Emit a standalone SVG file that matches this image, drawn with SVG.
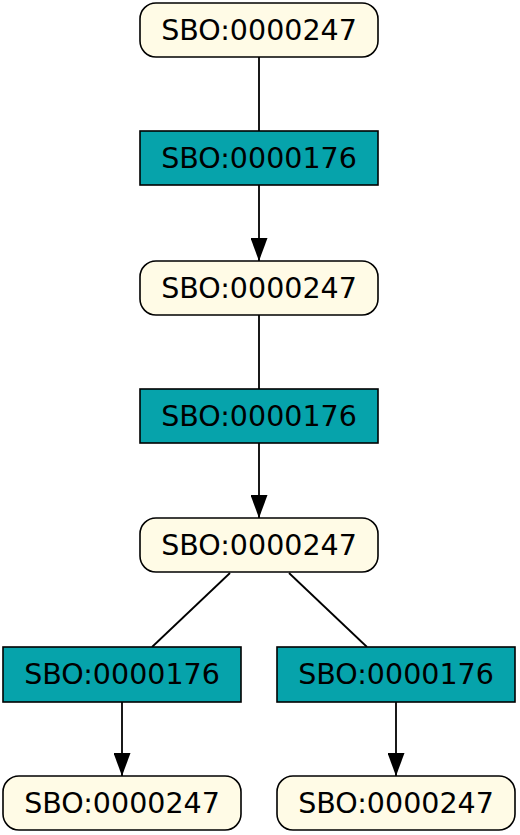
<svg xmlns="http://www.w3.org/2000/svg" width="520" height="835" viewBox="0 0 520 835">
<style>
.sp{fill:#fffbe6;stroke:#000;stroke-width:1.6}
.pr{fill:#06a3ab;stroke:#000;stroke-width:1.6}
.t{font-family:"DejaVu Sans",sans-serif;font-size:28.5px;text-anchor:middle;fill:#000}
.e{stroke:#000;stroke-width:1.8;fill:none}
</style>
<defs>
<marker id="ar" markerWidth="23" markerHeight="17" refX="23" refY="8.5" viewBox="0 0 23 17" orient="auto" markerUnits="userSpaceOnUse">
<path d="M0,0 L23,8.5 L0,17 Z" fill="#000"/>
</marker>
</defs>
<g id="edges">
<line class="e" x1="259" y1="57" x2="259" y2="131"/>
<line class="e" x1="259" y1="185" x2="259" y2="261" marker-end="url(#ar)"/>
<line class="e" x1="259" y1="315" x2="259" y2="389"/>
<line class="e" x1="259" y1="443" x2="259" y2="518" marker-end="url(#ar)"/>
<line class="e" x1="230" y1="573" x2="152" y2="647"/>
<line class="e" x1="289" y1="573" x2="367" y2="647"/>
<line class="e" x1="122" y1="702" x2="122" y2="776" marker-end="url(#ar)"/>
<line class="e" x1="396" y1="702" x2="396" y2="776" marker-end="url(#ar)"/>
</g>
<g id="n1"><rect class="sp" x="140" y="3" width="238" height="54" rx="16"/><text class="t" x="259" y="40">SBO:0000247</text></g>
<g id="p1"><rect class="pr" x="140" y="131" width="238" height="54"/><text class="t" x="259" y="168">SBO:0000176</text></g>
<g id="n2"><rect class="sp" x="140" y="261" width="238" height="54" rx="16"/><text class="t" x="259" y="298">SBO:0000247</text></g>
<g id="p2"><rect class="pr" x="140" y="389" width="238" height="54"/><text class="t" x="259" y="426">SBO:0000176</text></g>
<g id="n3"><rect class="sp" x="140" y="518" width="238" height="54" rx="16"/><text class="t" x="259" y="555">SBO:0000247</text></g>
<g id="p3"><rect class="pr" x="3" y="647" width="238" height="55"/><text class="t" x="122" y="684">SBO:0000176</text></g>
<g id="p4"><rect class="pr" x="277" y="647" width="238" height="55"/><text class="t" x="396" y="684">SBO:0000176</text></g>
<g id="n4"><rect class="sp" x="3" y="776" width="238" height="54" rx="16"/><text class="t" x="122" y="813">SBO:0000247</text></g>
<g id="n5"><rect class="sp" x="277" y="776" width="238" height="54" rx="16"/><text class="t" x="396" y="813">SBO:0000247</text></g>
</svg>
